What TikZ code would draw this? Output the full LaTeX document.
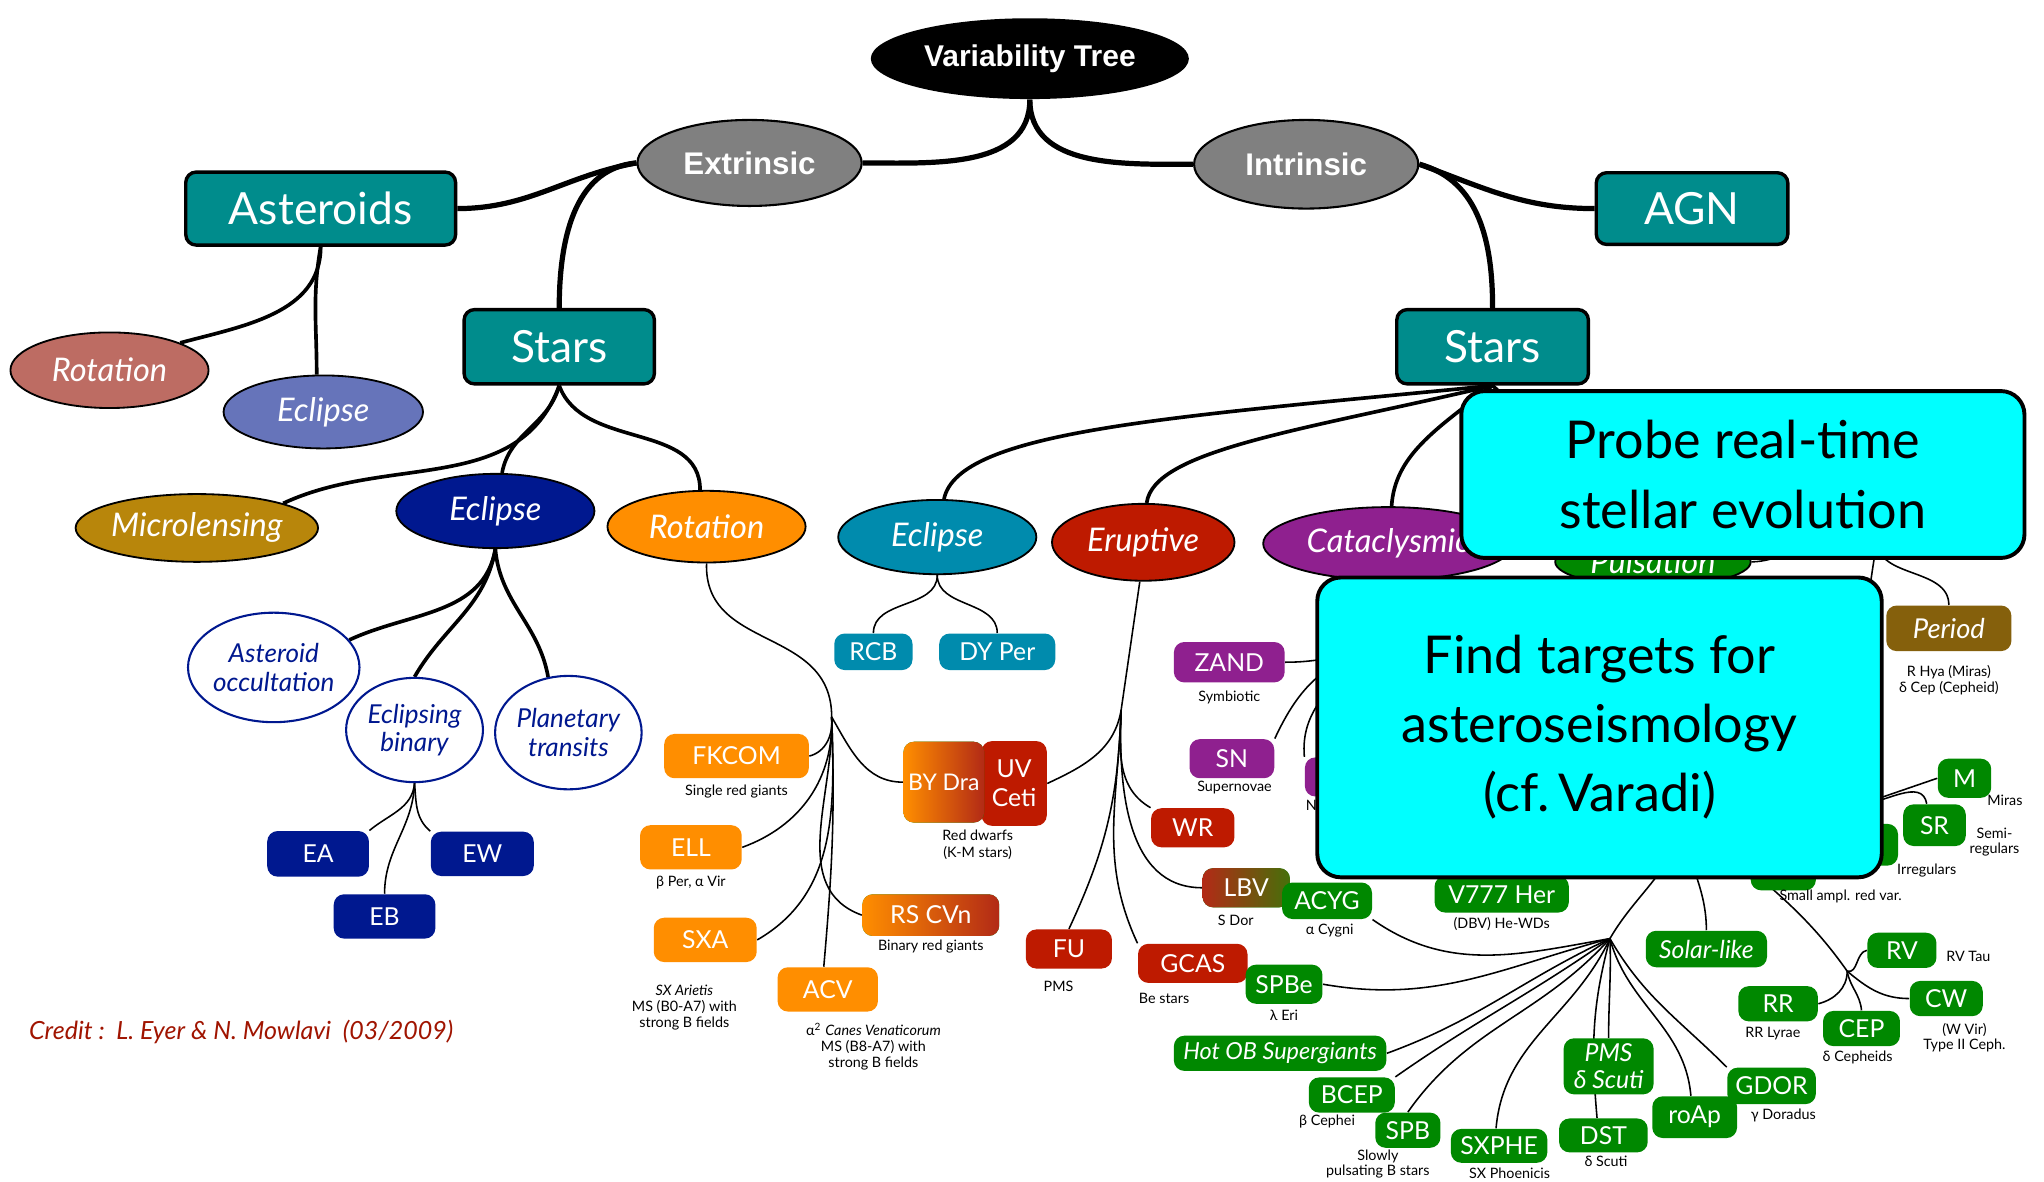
\documentclass[tikz,border=0pt]{standalone}
\usepackage{fontspec}
\setmainfont{Lato}
\newfontfamily\arialfont{Liberation Sans}
\usetikzlibrary{shapes.geometric,positioning,backgrounds}
\definecolor{tealbox}{RGB}{0,140,140}
\definecolor{extgray}{RGB}{128,128,128}
\definecolor{astrot}{RGB}{189,108,99}
\definecolor{astecl}{RGB}{102,116,186}
\definecolor{microgold}{RGB}{184,134,11}
\definecolor{navyecl}{RGB}{0,24,143}
\definecolor{rotorange}{RGB}{255,142,0}
\definecolor{ecltealblue}{RGB}{0,139,173}
\definecolor{erupred}{RGB}{190,26,0}
\definecolor{catpurple}{RGB}{143,32,143}
\definecolor{pulsgreen}{RGB}{0,136,0}
\definecolor{periodbrown}{RGB}{133,96,12}
\definecolor{creditred}{RGB}{160,20,0}
\definecolor{brickred}{RGB}{178,42,22}
\definecolor{olivegreen}{RGB}{70,112,10}
\definecolor{goalcyan}{RGB}{0,255,255}

\begin{document}
\begin{tikzpicture}[
  x=0.5pt, y=0.5pt,
  bx/.style 2 args={minimum width=#1*0.5pt, minimum height=#2*0.5pt, inner sep=0pt},
  rootnode/.style={ellipse, fill=black, text=white,
    font=\arialfont\bfseries\fontsize{11.5}{13}\selectfont},
  kindnode/.style={ellipse, draw=black, line width=0.8pt, fill=extgray, text=white,
    font=\arialfont\bfseries\fontsize{12}{14}\selectfont},
  groupbox/.style={draw=black, line width=1.3pt, rounded corners=4pt, fill=tealbox,
    text=white, font=\fontsize{17}{19}\selectfont},
  classell/.style={ellipse, draw=black, line width=0.7pt, fill=#1, text=white,
    font=\itshape\fontsize{12.5}{14}\selectfont},
  subell/.style={ellipse, draw=navyecl, line width=0.8pt, fill=white, text=navyecl,
    align=center, font=\itshape\fontsize{10}{11}\selectfont},
  typebox/.style={rounded corners=4pt, fill=#1, text=white, align=center,
    font=\fontsize{9.5}{11}\selectfont},
  typebox/.default=pulsgreen,
  note/.style={inner sep=0pt, align=center, font=\fontsize{5.5}{6.2}\selectfont},
  goalbox/.style={draw=black, line width=1.5pt, rounded corners=9pt, fill=goalcyan,
    align=center, font=\fontsize{20}{26.5}\selectfont},
  trunk/.style={line width=2pt},
  branch/.style={line width=1.4pt},
  twig/.style={line width=0.6pt}
]
\useasboundingbox (0,0) rectangle (1568,-906);

  % Top of the tree
  \node[rootnode, bx={244}{62}] (vt) at (790,-45) {Variability Tree};
  \node[kindnode, bx={172}{66}] (ext) at (575,-125) {Extrinsic};
  \node[kindnode, bx={172}{68}] (int) at (1002,-126) {Intrinsic};
  \node[groupbox, bx={207}{56}] (ast) at (246,-160) {Asteroids};
  \node[groupbox, bx={147}{55}] (agn) at (1298,-160) {AGN};
  \node[groupbox, bx={146}{57}] (starsL) at (429,-266) {Stars};
  \node[groupbox, bx={147}{57}] (starsR) at (1145,-266) {Stars};

  % Asteroids
  \node[classell=astrot, bx={152}{58}] (arot) at (84,-284) {Rotation};
  \node[classell=astecl, bx={153}{56}] (aecl) at (248,-316) {Eclipse};

  % Extrinsic stars
  \node[classell=microgold, bx={179}{52}] (micro) at (151,-405) {Microlensing};
  \node[classell=navyecl, bx={152}{57}] (secl) at (380,-392) {Eclipse};
  \node[classell=rotorange, bx={152}{55}] (srot) at (542,-404) {Rotation};

  \node[subell, bx={120}{84}] (aocc) at (210,-512) {Asteroid\\occultation};
  \node[subell, bx={105}{80}] (ebin) at (318,-560) {Eclipsing\\binary};
  \node[subell, bx={106}{87}] (ptra) at (436,-562) {Planetary\\transits};

  \node[typebox=navyecl, bx={78}{35}] (ea) at (244,-655) {EA};
  \node[typebox=navyecl, bx={79}{34}] (ew) at (370,-655) {EW};
  \node[typebox=navyecl, bx={78}{34}] (eb) at (295,-703) {EB};

  % Rotation
  \node[typebox=rotorange, bx={111}{34}] (fkcom) at (565,-580) {FKCOM};
  \node[note, below=2pt of fkcom] (fkcomnote) {Single red giants};
  \node[typebox=rotorange, bx={78}{34}] (ell) at (530,-650) {ELL};
  \node[note, below=2pt of ell] (ellnote) {β Per, α Vir};
  \node[typebox=rotorange, bx={79}{34}] (sxa) at (541,-721) {SXA};
  \node[note] (sxanote) at (525,-773) {\textit{SX Arietis}\\MS (B0-A7) with\\strong B fields};
  \node[typebox=rotorange, bx={77}{34}] (acv) at (635,-759) {ACV};
  \node[note] (acvnote) at (670,-803) {α\textsuperscript{2} \textit{Canes Venaticorum}\\MS (B8-A7) with\\strong B fields};
  \node[typebox, left color=rotorange, right color=brickred, bx={105}{32}] (rscvn) at (714,-702) {RS CVn};
  \node[note, below=1pt of rscvn] (rscvnnote) {Binary red giants};
  \node[typebox=erupred, bx={50}{65}] (uvceti) at (778,-601) {UV\\Ceti};
  \node[typebox, left color=rotorange, right color=brickred, bx={62}{62},
    font=\fontsize{8.8}{10}\selectfont] (bydra) at (724,-600) {BY Dra};
  \node[note] (bydranote) at (750,-648) {Red dwarfs\\(K-M stars)};

  % Intrinsic stars
  \node[classell=ecltealblue, bx={152}{57}] (recl) at (719,-412) {Eclipse};
  \node[classell=erupred, bx={140}{59}] (erup) at (877,-416) {Eruptive};
  \node[classell=catpurple, bx={192}{56}] (cata) at (1065,-417) {Cataclysmic};
  \node[classell=pulsgreen, bx={150}{38}] (puls) at (1268,-431) {Pulsation};

  \node[typebox=ecltealblue, bx={60}{28}] (rcb) at (670,-500) {RCB};
  \node[typebox=ecltealblue, bx={89}{28}] (dyper) at (765,-500) {DY Per};

  % Eruptive
  \node[typebox=erupred, bx={64}{30}] (wr) at (915,-635) {WR};
  \node[typebox, left color=brickred, right color=olivegreen, bx={67}{30}] (lbv) at (956,-681) {LBV};
  \node[note] (lbvnote) at (948,-706) {S Dor};
  \node[typebox=erupred, bx={66}{30}] (fu) at (820,-728) {FU};
  \node[note] (funote) at (812,-757) {PMS};
  \node[typebox=erupred, bx={84}{30}] (gcas) at (915,-739) {GCAS};
  \node[note] (gcasnote) at (893,-766) {Be stars};

  % Cataclysmic
  \node[typebox=catpurple, bx={85}{31}] (zand) at (943,-508) {ZAND};
  \node[note, below=3pt of zand] (zandnote) {Symbiotic};
  \node[typebox=catpurple, bx={65}{30}] (sn) at (945,-582) {SN};
  \node[note] (snnote) at (947,-604) {Supernovae};
  \node[typebox=catpurple, bx={78}{30}] (nov) at (1040,-596) {};
  \node[note] (novnote) at (1006,-618) {N};

  % Pulsation
  \node[typebox, bx={69}{28}] (acyg) at (1018,-691) {ACYG};
  \node[note] (acygnote) at (1020,-714) {α Cygni};
  \node[typebox, bx={103}{28}] (v777) at (1152,-686) {V777 Her};
  \node[note] (v777note) at (1152,-709) {(DBV) He-WDs};
  \node[typebox, bx={93}{28}, font=\itshape\fontsize{9.5}{11}\selectfont] (solar) at (1309,-728) {Solar-like};
  \node[typebox, bx={50}{36}] (sarv) at (1368,-665) {};
  \node[note] (sarvnote) at (1412,-688) {Small ampl. red var.};
  \node[typebox, bx={56}{32}] (irr) at (1428,-648) {};
  \node[note] (irrnote) at (1478,-668) {Irregulars};
  \node[typebox, bx={41}{30}] (mira) at (1507,-597) {M};
  \node[note] (miranote) at (1538,-614) {Miras};
  \node[typebox, bx={48}{32}] (sr) at (1484,-633) {SR};
  \node[note, font=\fontsize{5.5}{5.5}\selectfont] (srnote) at (1530,-646) {Semi-\\regulars};
  \node[typebox=periodbrown, bx={96}{35}, font=\itshape\fontsize{10.5}{12}\selectfont] (period) at (1495,-482) {Period};
  \node[note] (periodnote) at (1495,-522) {R Hya (Miras)\\δ Cep (Cepheid)};
  \node[typebox, bx={53}{27}] (rv) at (1459,-729) {RV};
  \node[note] (rvnote) at (1510,-734) {RV Tau};
  \node[typebox, bx={61}{27}] (rr) at (1364,-770) {RR};
  \node[note] (rrnote) at (1360,-793) {RR Lyrae};
  \node[typebox, bx={59}{27}] (cep) at (1428,-789) {CEP};
  \node[note] (cepnote) at (1425,-811) {δ Cepheids};
  \node[typebox, bx={56}{27}] (cw) at (1493,-766) {CW};
  \node[note, font=\fontsize{5.5}{5.5}\selectfont] (cwnote) at (1507,-796) {(W Vir)\\Type II Ceph.};
  \node[typebox, bx={163}{27}, font=\itshape\fontsize{9}{11}\selectfont] (hotob) at (982,-808) {Hot OB Supergiants};
  \node[typebox, bx={59}{30}] (spbe) at (985,-755) {SPBe};
  \node[note] (spbenote) at (985,-779) {λ Eri};
  \node[typebox, bx={66}{27}] (bcep) at (1037,-840) {BCEP};
  \node[note] (bcepnote) at (1018,-860) {β Cephei};
  \node[typebox, bx={50}{27}] (spb) at (1080,-867) {SPB};
  \node[note, font=\fontsize{5.5}{5.5}\selectfont] (spbnote) at (1057,-893) {Slowly\\pulsating B stars};
  \node[typebox, bx={74}{26}] (sxphe) at (1150,-879) {SXPHE};
  \node[note] (sxphenote) at (1158,-900) {SX Phoenicis};
  \node[typebox, bx={69}{43}, font=\itshape\fontsize{9.5}{10.5}\selectfont] (pmsd) at (1234,-818) {PMS\\δ Scuti};
  \node[typebox, bx={68}{26}] (dst) at (1230,-871) {DST};
  \node[note] (dstnote) at (1232,-891) {δ Scuti};
  \node[typebox, bx={65}{32}] (roap) at (1300,-857) {roAp};
  \node[typebox, bx={68}{28}] (gdor) at (1359,-833) {GDOR};
  \node[note] (gdornote) at (1368,-856) {γ Doradus};

  % Credit
  \node[anchor=west, inner sep=0pt, text=creditred, font=\itshape\fontsize{9.6}{11}\selectfont] (credit) at (22,-792) {Credit :\ \ L. Eyer \& N. Mowlavi\ \ (03/2009)};

  % Connectors
  \begin{scope}[on background layer]
  \fill[white] (0,0) rectangle (1568,-906);
  \draw[trunk] (vt.south) to[out=-90,in=0] (ext.east);
  \draw[trunk] (vt.south) to[out=-90,in=180] (int.west);
  \draw[trunk] (ext.west) to[out=190,in=0] (ast.east);
  \draw[trunk] (ext.west) to[out=185,in=90] (starsL.north);
  \draw[trunk] (int.east) to[out=-20,in=180] (agn.west);
  \draw[trunk] (int.east) to[out=-15,in=90] (starsR.north);

  \draw[branch] (ast.south) to[out=-90,in=15] (arot.north east);
  \draw[branch] (ast.south) to[out=-100,in=90] (aecl.100);
  \draw[branch] (starsL.south) to[out=-110,in=25] (micro.north east);
  \draw[branch] (starsL.south) to[out=-105,in=80] (secl.80);
  \draw[branch] (starsL.south) to[out=-70,in=90] (srot.100);
  \draw[branch] (secl.south) to[out=-100,in=25] (aocc.20);
  \draw[branch] (secl.south) to[out=-100,in=60] (ebin.north);
  \draw[branch] (secl.south) to[out=-85,in=100] (ptra.110);
  \draw[twig] (ebin.south) to[out=-95,in=40] (ea.north east);
  \draw[twig] (ebin.south) to[out=-85,in=140] (ew.north west);
  \draw[twig] (ebin.south) to[out=-92,in=90] (eb.north);

  \coordinate (rj) at (638,-550);
  \draw[twig] (srot.south) .. controls (540,-500) and (638,-480) .. (rj);
  \draw[twig] (rj) to[out=-60,in=180] (bydra.west);
  \draw[twig] (rj) to[out=-85,in=15] (fkcom.east);
  \draw[twig] (rj) to[out=-88,in=20] (ell.east);
  \draw[twig] (rj) to[out=-88,in=30] (sxa.east);
  \draw[twig] (rj) to[out=-88,in=85] (acv.100);
  \draw[twig] (rj) to[out=-88,in=160] (rscvn.west);

  \draw[branch] (starsR.south) .. controls (900,-320) and (735,-330) .. (recl.80);
  \draw[branch] (starsR.south) .. controls (1000,-330) and (885,-345) .. (erup.85);
  \draw[branch] (starsR.south) .. controls (1100,-330) and (1070,-350) .. (cata.85);
  \draw[branch] (starsR.south) -- (puls.north);
  \draw[twig] (recl.south) to[out=-90,in=90] (rcb.north);
  \draw[twig] (recl.south) to[out=-90,in=90] (dyper.north);

  \coordinate (ej) at (860,-545);
  \draw[twig] (erup.265) -- (ej);
  \draw[twig] (ej) to[out=-100,in=25] (uvceti.east);
  \draw[twig] (ej) to[out=-92,in=150] (wr.north west);
  \draw[twig] (ej) to[out=-92,in=180] (lbv.west);
  \draw[twig] (ej) to[out=-92,in=65] (fu.north);
  \draw[twig] (ej) to[out=-92,in=115] (gcas.north west);

  \coordinate (cj) at (1045,-500);
  \draw[twig] (cata.south) -- (cj);
  \draw[twig] (cj) to[out=190,in=0] (zand.east);
  \draw[twig] (cj) to[out=200,in=65] (sn.north east);
  \draw[twig] (cj) to[out=230,in=95] (nov.north west);

  \coordinate (ph) at (1290,-620);
  \coordinate (pj) at (1235,-720);
  \coordinate (rq) at (1417,-745);
  \coordinate (pr) at (1440,-415);
  \coordinate (mj) at (1425,-618);
  \draw[twig] (puls.south) -- (ph);
  \draw[twig] (puls.east) to[out=0,in=90] (pr);
  \draw[twig] (pr) to[out=-90,in=90] (period.north);
  \draw[twig] (pr) to[out=-100,in=90] (irr.north);
  \draw[twig] (ph) -- (sarv.north);
  \draw[twig] (ph) -- (mj);
  \draw[twig] (mj) -- (mira.west);
  \draw[twig] (mj) to[out=5,in=100] (sr.110);
  \draw[twig] (ph) to[out=-90,in=60] (pj);
  \draw[twig] (ph) to[out=-90,in=90] (solar.north);
  \draw[twig] (ph) to[out=-45,in=125] (rq);
  \draw[twig] (rq) to[out=-15,in=190] (rv.west);
  \draw[twig] (rq) to[out=-90,in=15] (rr.east);
  \draw[twig] (rq) to[out=-80,in=95] (cep.north);
  \draw[twig] (rq) to[out=-40,in=180] (cw.west);
  \draw[twig] (pj) to[out=190,in=-35] (acyg.south east);
  \draw[twig] (pj) to[out=195,in=-10] (spbe.east);
  \draw[twig] (pj) to[out=205,in=20] (hotob.east);
  \draw[twig] (pj) to[out=215,in=35] (bcep.north east);
  \draw[twig] (pj) to[out=228,in=55] (spb.north);
  \draw[twig] (pj) to[out=245,in=85] (sxphe.100);
  \draw[twig] (pj) to[out=255,in=95] (dst.110);
  \draw[twig] (pj) to[out=-88,in=90] (pmsd.north);
  \draw[twig] (pj) to[out=-75,in=95] (roap.100);
  \draw[twig] (pj) to[out=-60,in=135] (gdor.north west);
  \end{scope}

  % Goals on top
  \node[goalbox, bx={432}{128}] (probe) at (1337,-364) {Probe real-time\\stellar evolution};
  \node[goalbox, bx={433}{230}] (find) at (1227,-558) {Find targets for\\asteroseismology\\(cf.\,Varadi)};

\end{tikzpicture}
\end{document}
